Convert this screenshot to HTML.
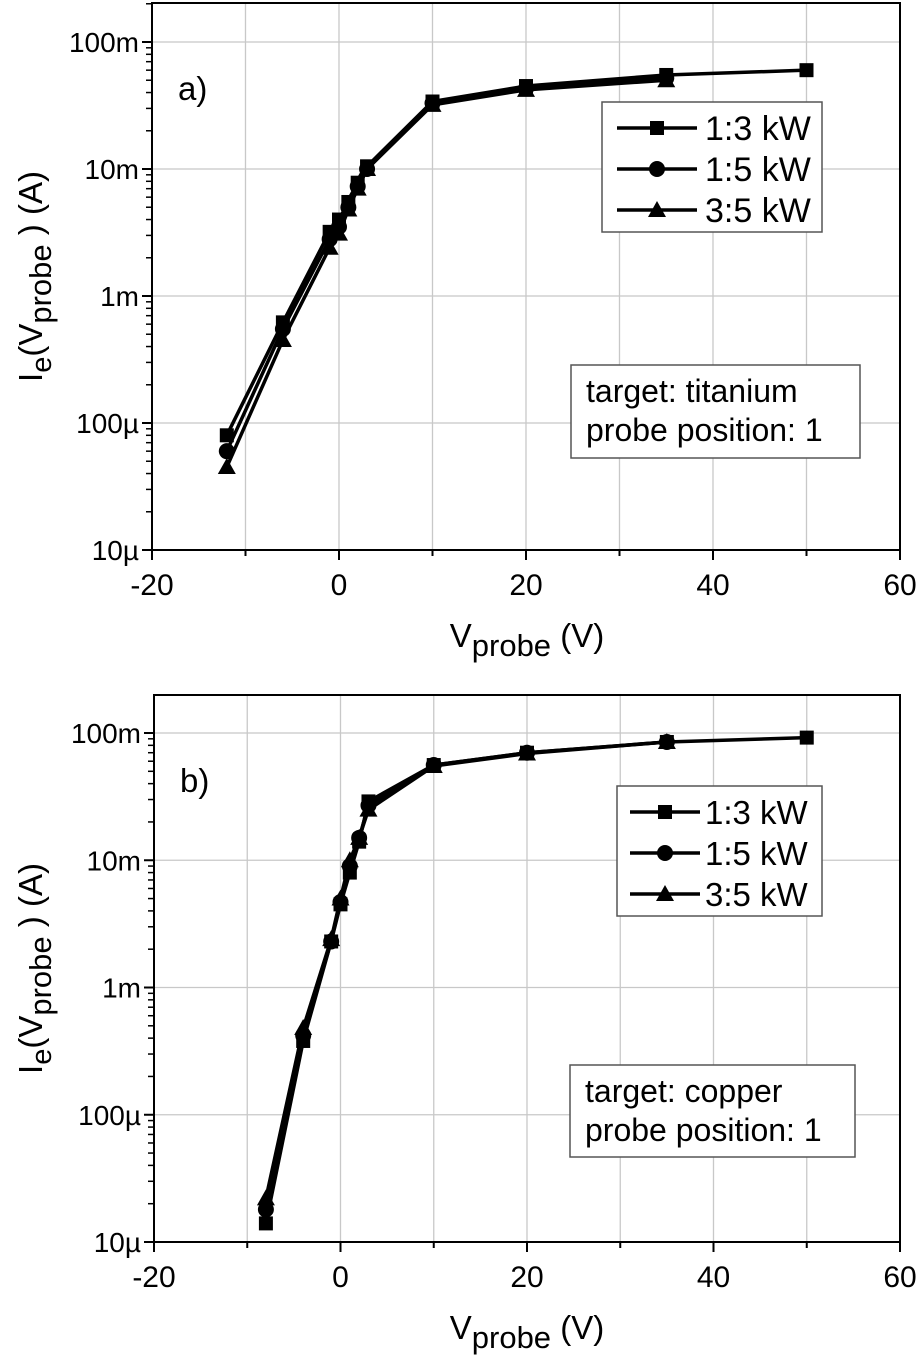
<!DOCTYPE html>
<html><head><meta charset="utf-8"><style>
html,body{margin:0;padding:0;background:#fff}
svg{display:block;font-family:"Liberation Sans",Arial,sans-serif}
</style></head><body>
<svg id="fig" width="923" height="1372" viewBox="0 0 923 1372" xmlns="http://www.w3.org/2000/svg"></svg>
<script>
// ---- data panel a (titanium) ----
const xA = [-12, -6, -1, 0, 1, 2, 3, 10, 20, 35, 50];
const a13 = [80e-6, 0.62e-3, 3.2e-3, 4.0e-3, 5.5e-3, 7.8e-3, 10.5e-3, 34e-3, 45e-3, 55e-3, 60e-3];
const a15 = [60e-6, 0.55e-3, 2.8e-3, 3.5e-3, 5.0e-3, 7.3e-3, 10e-3, 33e-3, 43e-3, 52e-3];
const a35 = [45e-6, 0.45e-3, 2.4e-3, 3.1e-3, 4.8e-3, 7.0e-3, 10e-3, 32e-3, 42e-3, 50e-3];
// ---- data panel b (copper) ----
const xB = [-8, -4, -1, 0, 1, 2, 3, 10, 20, 35, 50];
const b13 = [14e-6, 0.38e-3, 2.3e-3, 4.5e-3, 8e-3, 14e-3, 29e-3, 56e-3, 70e-3, 85e-3, 92e-3];
const b15 = [18e-6, 0.42e-3, 2.3e-3, 4.7e-3, 9e-3, 15e-3, 27e-3, 56e-3, 70e-3, 85e-3];
const b35 = [22e-6, 0.48e-3, 2.4e-3, 5.0e-3, 10e-3, 15e-3, 25e-3, 55e-3, 69e-3, 85e-3];
const xTicks = [-20, 0, 20, 40, 60];
const yTickVals = [1e-5, 1e-4, 1e-3, 1e-2, 1e-1];
const yTickLabels = ["10µ", "100µ", "1m", "10m", "100m"];
const seriesNames = ["1:3 kW", "1:5 kW", "3:5 kW"];

const NS = "http://www.w3.org/2000/svg";
const svg = document.getElementById("fig");
function mk(tag, attrs, parent, text) {
  const e = document.createElementNS(NS, tag);
  for (const k in attrs) e.setAttribute(k, attrs[k]);
  if (text !== undefined) e.textContent = text;
  (parent || svg).appendChild(e);
  return e;
}
function marker(g, type, x, y, s) {
  let m;
  if (type === 0) m = mk("rect", {x: x - s/2, y: y - s/2, width: s, height: s, fill: "#000"}, g);
  else if (type === 1) m = mk("circle", {cx: x, cy: y, r: s/2 + 1, fill: "#000"}, g);
  else m = mk("polygon", {points: `${x},${y - s/2 - 2} ${x - s/2 - 2},${y + s/2} ${x + s/2 + 2},${y + s/2}`, fill: "#000"}, g);
  return m;
}
function panel(cfg) {
  const {L, R, T, B, y100m, dec, xs, series, letter, target, leg, legOff, ann, id} = cfg;
  const g = mk("g", {});
  
  
  const xS = v => L + (v + 20) / 80 * (R - L);
  const yS = v => y100m - (Math.log10(v) + 1) * dec;
  for (let v = -10; v < 60; v += 10) mk("line", {x1: xS(v), x2: xS(v), y1: T, y2: B, stroke: "#c8c8c8", "stroke-width": 1.3}, g);
  for (const v of yTickVals) mk("line", {x1: L, x2: R, y1: yS(v), y2: yS(v), stroke: "#c8c8c8", "stroke-width": 1.3}, g);
  const fr = mk("rect", {x: L, y: T, width: R - L, height: B - T, fill: "none", stroke: "#000", "stroke-width": 2}, g);
  
  
  for (let v = -20; v <= 60; v += 10) mk("line", {x1: xS(v), x2: xS(v), y1: B, y2: B + (v % 20 === 0 ? 10 : 6), stroke: "#000", "stroke-width": 2}, g);
  xTicks.forEach(v => {
    const t = mk("text", {x: xS(v), y: B + 45, "font-size": 30, "text-anchor": "middle"}, g, String(v));
    
    
  });
  for (let d = -5; d <= -1; d++) {
    const base = Math.pow(10, d);
    mk("line", {x1: L - 10, x2: L, y1: yS(base), y2: yS(base), stroke: "#000", "stroke-width": 2}, g);
    if (d < -1) for (let k = 2; k <= 9; k++) mk("line", {x1: L - 6, x2: L, y1: yS(base * k), y2: yS(base * k), stroke: "#000", "stroke-width": 1.5}, g);
  }
  for (let k = 2; k <= 9; k++) { const v = 0.1 * k; if (yS(v) > T) mk("line", {x1: L - 6, x2: L, y1: yS(v), y2: yS(v), stroke: "#000", "stroke-width": 1.5}, g); }
  yTickVals.forEach((v, i) => {
    const t = mk("text", {x: L - 13, y: yS(v) + 10, "font-size": 28, "text-anchor": "end"}, g, yTickLabels[i]);
    
    
  });
  const xt = mk("text", {x: 527, y: B + 97, "font-size": 33, "text-anchor": "middle"}, g);
  
  
  mk("tspan", {}, xt, "V");
  mk("tspan", {dy: 9, "font-size": 31}, xt, "probe");
  mk("tspan", {dy: -9}, xt, " (V)");
  const cy = (T + B) / 2;
  const yt = mk("text", {x: 0, y: 0, "font-size": 33, "text-anchor": "middle", transform: `translate(42,${cy}) rotate(-90)`}, g);
  
  
  mk("tspan", {}, yt, "I");
  mk("tspan", {dy: 9, "font-size": 29}, yt, "e");
  mk("tspan", {dy: -9}, yt, "(V");
  mk("tspan", {dy: 9, "font-size": 31}, yt, "probe");
  mk("tspan", {dy: -9}, yt, " )  (A)");
  const lt = mk("text", {x: L + 26, y: T + 97, "font-size": 33}, g, letter);
  
  
  series.forEach((vals, si) => {
    const sg = mk("g", {}, g);
    
    
    const pts = vals.map((v, i) => xS(xs[i]) + "," + yS(v)).join(" ");
    mk("polyline", {points: pts, fill: "none", stroke: "#000", "stroke-width": 3.5, "stroke-linejoin": "round"}, sg);
    vals.forEach((v, i) => {
      const m = marker(sg, si, xS(xs[i]), yS(v), 14);
      
      
    });
  });
  const lg = mk("g", {}, g);
  
  
  mk("rect", {x: leg[0], y: leg[1], width: leg[2], height: leg[3], fill: "#fff", stroke: "#555", "stroke-width": 1.5}, lg);
  seriesNames.forEach((n, i) => {
    const ey = leg[1] + 26 + i * 41;
    const e = mk("g", {}, lg);
    
    
    mk("line", {x1: leg[0] + legOff[0], x2: leg[0] + legOff[1], y1: ey, y2: ey, stroke: "#000", "stroke-width": 3.5}, e);
    marker(e, i, leg[0] + (legOff[0] + legOff[1]) / 2, ey, 14);
    mk("text", {x: leg[0] + legOff[2], y: ey + 12, "font-size": legOff[3]}, e, n);
  });
  const ag = mk("g", {}, g);
  
  
  mk("rect", {x: ann[0], y: ann[1], width: ann[2], height: ann[3], fill: "#fff", stroke: "#555", "stroke-width": 1.5}, ag);
  mk("text", {x: ann[0] + 15, y: ann[1] + 37, "font-size": 32}, ag, "target: " + target);
  mk("text", {x: ann[0] + 15, y: ann[1] + 76, "font-size": 32}, ag, "probe position: 1");
}
panel({id: "titanium", L: 152, R: 900, T: 3, B: 550, y100m: 42, dec: 127, xs: xA, series: [a13, a15, a35],
  letter: "a)", target: "titanium", leg: [602, 102, 220, 130], legOff: [15, 95, 103, 34], ann: [571, 365, 289, 93]});
panel({id: "copper", L: 154, R: 900, T: 695, B: 1242, y100m: 733, dec: 127.25, xs: xB, series: [b13, b15, b35],
  letter: "b)", target: "copper", leg: [617, 786, 205, 130], legOff: [13, 83, 88, 33], ann: [570, 1065, 285, 92]});
</script>
</body></html>
